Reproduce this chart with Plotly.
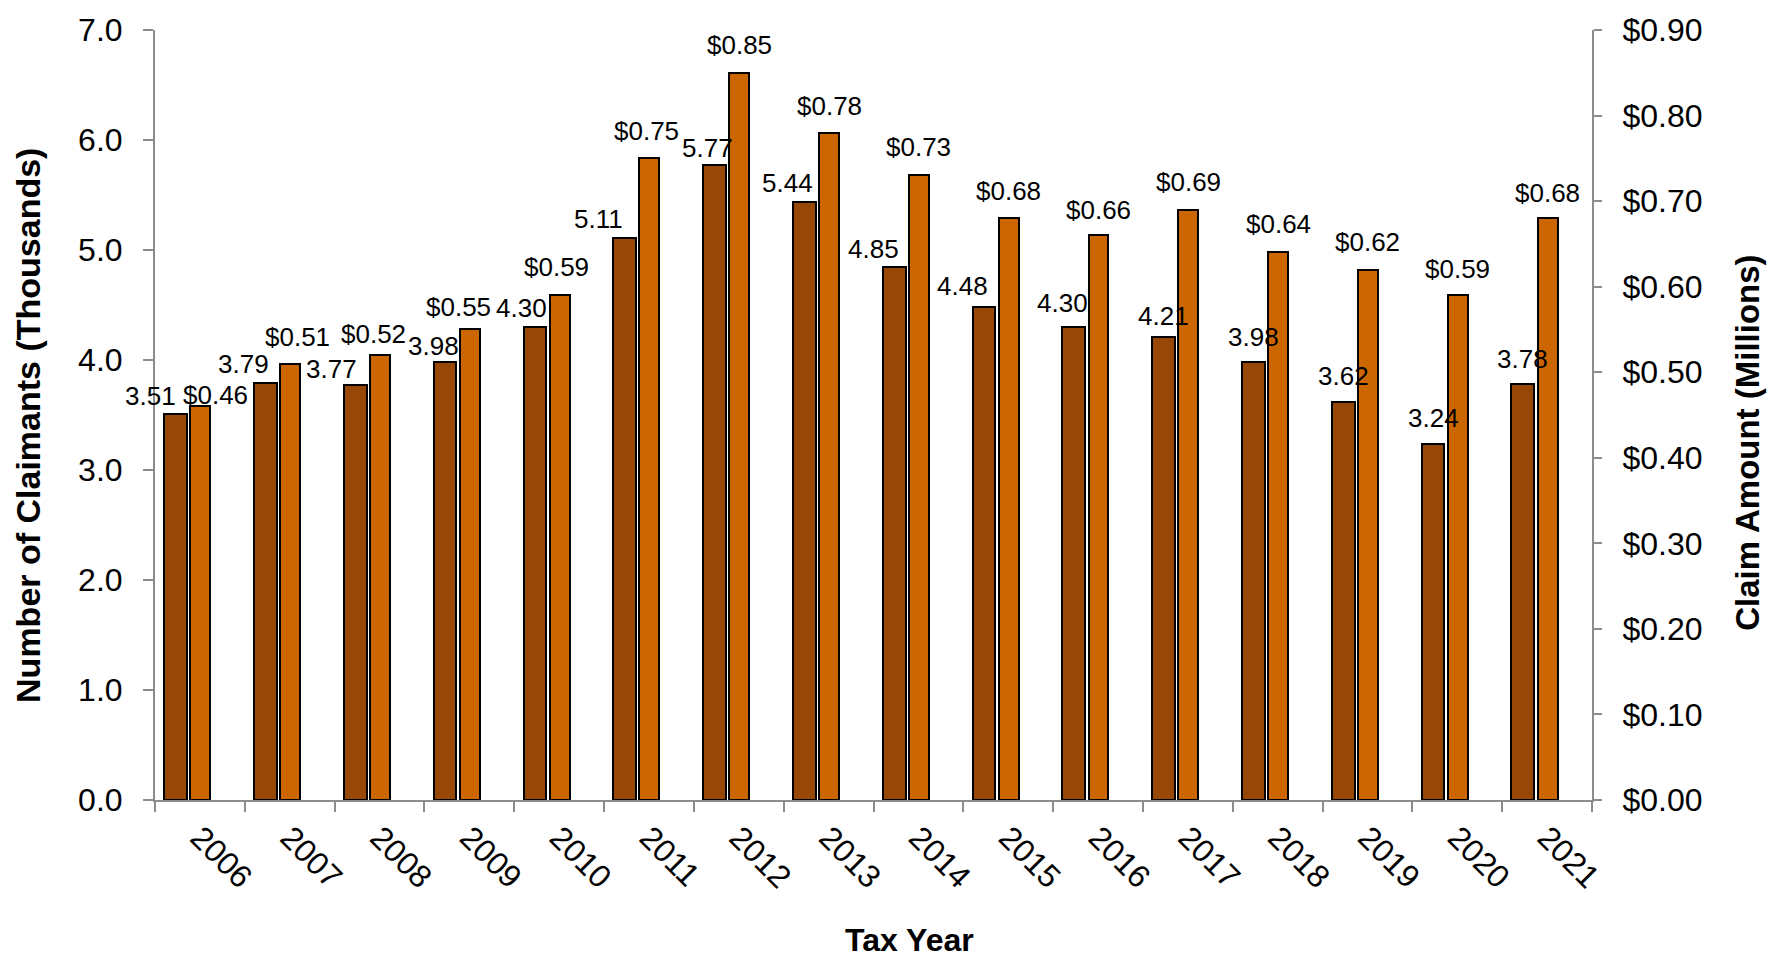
import plotly.graph_objects as go

years = ["2006", "2007", "2008", "2009", "2010", "2011", "2012", "2013",
         "2014", "2015", "2016", "2017", "2018", "2019", "2020", "2021"]
claimants_thousands = [3.51, 3.79, 3.77, 3.98, 4.30, 5.11, 5.77, 5.44,
                       4.85, 4.48, 4.30, 4.21, 3.98, 3.62, 3.24, 3.78]
claim_amount_millions = [0.46, 0.51, 0.52, 0.55, 0.59, 0.75, 0.85, 0.78,
                         0.73, 0.68, 0.66, 0.69, 0.64, 0.62, 0.59, 0.68]

# label nudges in pixels (styling, as placed in the original chart)
claimant_label_dx = [-25, -22, -24, -12, -13, -26, -7, -17, -21, -21, -11, 0, 0, 0, 0, 0]
claimant_label_dy = [9, 11, 8, 8, 11, 10, 9, 10, 9, 13, 16, 12, 17, 17, 17, 17]
amount_label_dx = [15, 7, -6, -11, -3, -3, 0, 0, 0, 0, 0, 0, 0, 0, 0, 0]
amount_label_dy = [3, 18, 13, 14, 20, 19, 19, 18, 20, 19, 17, 19, 20, 19, 18, 17]

DARK = "#974706"
ORANGE = "#CC6600"
AXIS = "#8c8c8c"
FONT = "Liberation Sans, Arial, sans-serif"
LABEL_SIZE = 26
BASE_OFF = 7.5  # distance between annotation box bottom and text baseline

n = len(years)
idx = list(range(n))
dark_pos = [i + 0.23 for i in idx]
orange_pos = [i + 0.505 for i in idx]

fig = go.Figure()
fig.add_trace(go.Bar(
    x=dark_pos, y=claimants_thousands, width=0.253,
    marker=dict(color=DARK, line=dict(color="black", width=2)),
    name="Number of Claimants", yaxis="y", hoverinfo="y",
))
fig.add_trace(go.Bar(
    x=orange_pos, y=claim_amount_millions, width=0.222,
    marker=dict(color=ORANGE, line=dict(color="black", width=2)),
    name="Claim Amount", yaxis="y2", hoverinfo="y",
))

annotations = []
for xp, v, dx, dy in zip(dark_pos, claimants_thousands, claimant_label_dx, claimant_label_dy):
    annotations.append(dict(x=xp, y=v, xref="x", yref="y", text=f"{v:.2f}",
                            showarrow=False, yanchor="bottom", xshift=dx, yshift=dy - BASE_OFF,
                            borderpad=0,
                            font=dict(family=FONT, size=LABEL_SIZE, color="black")))
for xp, v, dx, dy in zip(orange_pos, claim_amount_millions, amount_label_dx, amount_label_dy):
    annotations.append(dict(x=xp, y=v, xref="x", yref="y2", text=f"${v:.2f}",
                            showarrow=False, yanchor="bottom", xshift=dx, yshift=dy - BASE_OFF,
                            borderpad=0,
                            font=dict(family=FONT, size=LABEL_SIZE, color="black")))

PL, PR, PT, PB = 155, 1592, 26, 800


def px_x(p):
    return (p - PL) / (PR - PL)


def px_y(p):
    return (PB - p) / (PB - PT)


annotations.append(dict(x=px_x(910), y=px_y(941), xref="paper", yref="paper",
                        text="<b>Tax Year</b>", showarrow=False, xanchor="center", yanchor="middle",
                        font=dict(family=FONT, size=32, color="black")))
annotations.append(dict(x=px_x(28), y=px_y(424), xref="paper", yref="paper",
                        text="<b>Number of Claimants (Thousands)</b>", textangle=-90,
                        showarrow=False, xanchor="center", yanchor="middle",
                        font=dict(family=FONT, size=34, color="black")))
annotations.append(dict(x=px_x(1748), y=px_y(441), xref="paper", yref="paper",
                        text="<b>Claim Amount (Millions)</b>", textangle=-90,
                        showarrow=False, xanchor="center", yanchor="middle",
                        font=dict(family=FONT, size=33, color="black")))

fig.update_layout(
    width=1786, height=958,
    margin=dict(l=PL, r=1786 - PR, t=PT, b=958 - PB),
    paper_bgcolor="white", plot_bgcolor="white",
    showlegend=False, barmode="overlay", bargap=0,
    font=dict(family=FONT, color="black"),
    annotations=annotations,
    xaxis=dict(
        range=[0, n], tickmode="array",
        tickvals=[i + 0.5 for i in idx], ticktext=years,
        tickangle=45, ticks="", ticklabelstandoff=4,
        tickfont=dict(family=FONT, size=32, color="black"),
        showline=True, linecolor=AXIS, linewidth=2,
        showgrid=False, zeroline=False,
        minor=dict(tickmode="array", tickvals=list(range(n + 1)), ticks="outside",
                   ticklen=10, tickwidth=2, tickcolor=AXIS, showgrid=False),
    ),
    yaxis=dict(
        range=[0, 7], tickmode="array", tickvals=[0, 1, 2, 3, 4, 5, 6, 7],
        tickformat=".1f", ticks="outside", ticklen=10, tickwidth=2, tickcolor=AXIS,
        ticklabelstandoff=14,
        tickfont=dict(family=FONT, size=32, color="black"),
        showline=True, linecolor=AXIS, linewidth=2, showgrid=False, zeroline=False,
    ),
    yaxis2=dict(
        range=[0, 0.9], overlaying="y", side="right", anchor="x",
        tickmode="array", tickvals=[0, 0.1, 0.2, 0.3, 0.4, 0.5, 0.6, 0.7, 0.8, 0.9],
        tickformat="$.2f", ticks="outside", ticklen=8, tickwidth=2, tickcolor=AXIS,
        ticklabelstandoff=14,
        tickfont=dict(family=FONT, size=32, color="black"),
        showline=True, linecolor=AXIS, linewidth=2, showgrid=False, zeroline=False,
    ),
)

fig.write_html("out.html")
